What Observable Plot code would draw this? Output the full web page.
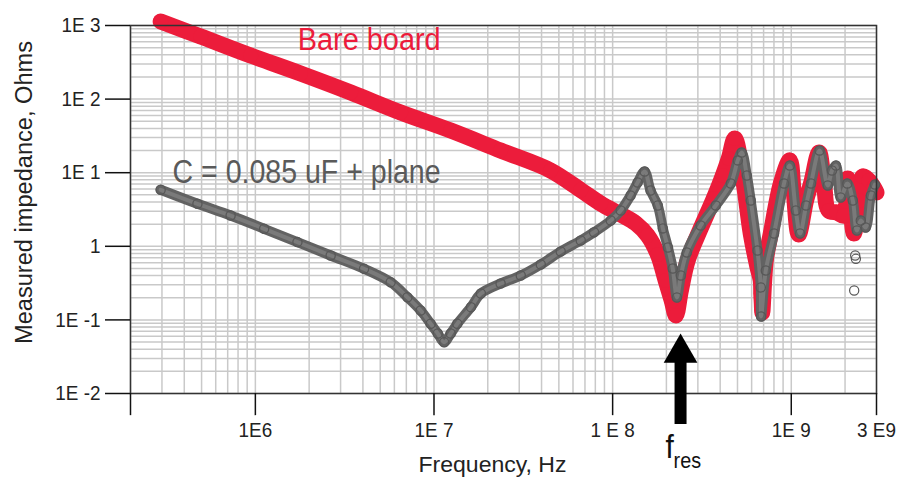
<!DOCTYPE html>
<html>
<head>
<meta charset="utf-8">
<script src="https://cdn.jsdelivr.net/npm/d3@7"></script>
<script src="https://cdn.jsdelivr.net/npm/@observablehq/plot@0.6"></script>
<style>
  html, body { margin: 0; padding: 0; background: #fff; }
  #chart { width: 906px; height: 479px; }
</style>
</head>
<body>
<div id="chart"></div>
<script>
// ---- data (frequency in Hz, impedance in Ohms) ----
const redFreq = [2.95e5, 4.94e5, 9.41e5, 1.79e6, 3.42e6, 6.51e6, 1.24e7, 2.36e7, 4.50e7, 6.63e7,
  8.58e7, 1.11e8, 1.35e8, 1.57e8, 1.79e8, 1.98e8, 2.14e8, 2.26e8, 2.41e8, 2.63e8,
  3.11e8, 3.68e8, 4.14e8, 4.47e8, 4.83e8, 5.42e8, 5.93e8, 6.47e8, 6.75e8, 6.79e8,
  6.84e8, 6.88e8, 7.20e8, 7.68e8, 8.74e8, 9.81e8, 1.03e9, 1.10e9, 1.21e9, 1.29e9,
  1.43e9, 1.52e9, 1.62e9, 1.80e9, 1.97e9, 2.07e9, 2.24e9, 2.39e9, 2.51e9, 2.72e9,
  2.90e9, 3.0e9];
const redZ = [1133, 709, 391, 223, 123, 65.8, 37.4, 20.0, 10.7, 5.8,
  3.81, 2.71, 2.04, 1.40, 0.774, 0.343, 0.184, 0.115, 0.251, 0.641,
  1.75, 4.46, 9.16, 15.6, 29.2, 7.14, 1.49, 0.520, 0.343, 0.228,
  0.167, 0.126, 0.641, 1.49, 7.14, 14.7, 5.73, 1.45, 4.19, 7.14,
  18.8, 7.83, 3.06, 2.88, 2.62, 8.34, 1.49, 4.19, 8.88, 7.83,
  6.29, 5.38];

const grayFreq = [2.95e5, 4.74e5, 7.27e5, 1.12e6, 1.72e6, 2.64e6, 4.06e6, 5.72e6, 7.10e6, 8.42e6,
  9.58e6, 1.05e7, 1.14e7, 1.24e7, 1.35e7, 1.61e7, 1.83e7, 2.36e7, 3.06e7, 3.96e7,
  5.12e7, 6.63e7, 7.87e7, 9.76e7, 1.11e8, 1.26e8, 1.38e8, 1.51e8, 1.63e8, 1.79e8,
  1.91e8, 2.04e8, 2.17e8, 2.29e8, 2.41e8, 2.60e8, 3.11e8, 3.78e8, 4.59e8, 5.02e8,
  5.28e8, 5.64e8, 5.93e8, 6.47e8, 6.75e8, 6.78e8, 7.20e8, 8.01e8, 9.11e8, 9.81e8,
  1.06e9, 1.12e9, 1.21e9, 1.29e9, 1.44e9, 1.60e9, 1.69e9, 1.78e9, 1.89e9, 2.06e9,
  2.21e9, 2.33e9, 2.45e9, 2.61e9, 2.79e9, 2.94e9];
const grayZ = [5.86, 3.78, 2.62, 1.73, 1.14, 0.750, 0.495, 0.325, 0.203, 0.134,
  0.0885, 0.0653, 0.0498, 0.0653, 0.0885, 0.149, 0.228, 0.312, 0.401, 0.566,
  0.850, 1.20, 1.55, 2.24, 3.06, 4.90, 7.36, 10.4, 5.73, 3.58,
  1.75, 0.963, 0.499, 0.202, 0.401, 0.824, 1.92, 3.58, 7.14, 14.7,
  18.8, 9.16, 4.19, 0.877, 0.276, 0.111, 0.469, 1.49, 7.14, 12.5,
  3.06, 1.49, 3.58, 7.14, 20.0, 6.70, 10.7, 12.5, 4.60, 7.14,
  4.19, 1.64, 2.24, 1.80, 4.90, 6.92];

const grayOutFreq = [2.28e9, 2.30e9, 2.25e9];
const grayOutZ = [0.750, 0.676, 0.251];

const xDomain = [2e5, 3e9];
const yDomain = [1e-2, 1e3];
const xTickValues = [2e5, 1e6, 1e7, 1e8, 1e9, 3e9];
const xTickLabels = ["", "1E6", "1E 7", "1 E 8", "1E 9", "3 E9"];
const yTickValues = [1e3, 1e2, 1e1, 1, 1e-1, 1e-2];
const yTickLabels = ["1E 3", "1E 2", "1E 1", "1", "1E -1", "1E -2"];
const xTickEnd = 0.005;        // x tick marks hang below the axis down to this level

const seriesLabels = ["Bare board", "C = 0.085 uF + plane"];
const labelFreq = [1.725e6, 3.44e5];
const labelZ = [625, 10.25];
const xTitle = "Frequency, Hz";
const yTitle = "Measured impedance, Ohms";
const fres = 2.4e8;            // marked resonance frequency
const arrowTipZ = 0.0356;      // arrow head position (impedance units)
const arrowShaft = [0.04, 0.0038];

// ---- tables ----
const red = redFreq.map((f, i) => ({f, z: redZ[i]}));
const gray = grayFreq.map((f, i) => ({f, z: grayZ[i]}));
const grayOut = grayOutFreq.map((f, i) => ({f, z: grayOutZ[i]}));
const xTicks = xTickValues.map((v, i) => ({v, label: xTickLabels[i]}));
const yLab = new Map(yTickValues.map((v, i) => [v, yTickLabels[i]]));
const xGrid = d3.scaleLog().domain(xDomain).ticks();
const yGrid = d3.scaleLog().domain(yDomain).ticks();

const RED = "#ec1c3b";
const GRAY = "#575757";
const FONT = "'Liberation Sans', Arial, sans-serif";

const chart = Plot.plot({
  width: 906,
  height: 479,
  marginLeft: 130,
  marginRight: 30,
  marginTop: 25,
  marginBottom: 86,
  x: {type: "log", domain: xDomain, axis: null},
  y: {type: "log", domain: yDomain},
  style: {fontFamily: FONT, fontSize: "21px", color: "#222", background: "#fff", overflow: "visible"},
  marks: [
    Plot.ruleX(xGrid, {stroke: "#c9c9c9", strokeWidth: 1.5}),
    Plot.ruleY(yGrid, {stroke: "#c9c9c9", strokeWidth: 1.5}),
    // bare board
    Plot.line(red, {x: "f", y: "z", curve: "catmull-rom", stroke: RED, strokeWidth: 16, strokeLinejoin: "round", strokeLinecap: "round"}),
    Plot.dot(red, {x: "f", y: "z", r: 7.5, fill: RED}),
    // C + plane
    Plot.line(gray, {x: "f", y: "z", curve: "catmull-rom", stroke: "#626262", strokeWidth: 10, strokeLinejoin: "round", strokeLinecap: "round"}),
    Plot.line(gray, {x: "f", y: "z", curve: "catmull-rom", stroke: "#7a7a7a", strokeWidth: 4, strokeLinejoin: "round"}),
    Plot.dot(gray, {x: "f", y: "z", r: 4.6, stroke: GRAY, strokeWidth: 1.3, fill: "none"}),
    Plot.dot(grayOut, {x: "f", y: "z", r: 4.6, stroke: GRAY, strokeWidth: 1.2, fill: "none"}),
    // frame and axes
    Plot.frame({stroke: "#333", strokeWidth: 1.5}),
    Plot.axisY({ticks: yTickValues, tickFormat: d => yLab.get(d), tickSize: 25, tickPadding: 5,
      stroke: "#111", strokeWidth: 1.5, fontSize: 21, label: null}),
    Plot.ruleX(xTickValues, {x: d => d, y1: yDomain[0], y2: xTickEnd, stroke: "#111", strokeWidth: 1.5}),
    Plot.text(xTicks, {x: "v", text: "label", frameAnchor: "bottom", dy: 36.5, fontSize: 21, fill: "#222",
      textAnchor: "middle", lineAnchor: "middle"}),
    Plot.text([yTitle], {frameAnchor: "left", rotate: -90, dx: -106, dy: -17, fontSize: 23, fill: "#222",
      textAnchor: "middle", lineAnchor: "middle"}),
    Plot.text([xTitle], {frameAnchor: "bottom", dx: -11, dy: 71, fontSize: 22, fill: "#222",
      textAnchor: "middle", lineAnchor: "middle"}),
    // series labels
    Plot.text([0], {x: d => labelFreq[d], y: d => labelZ[d], text: d => seriesLabels[d], fill: RED,
      fontSize: 31, textAnchor: "start", lineAnchor: "middle"}),
    Plot.text([1], {x: d => labelFreq[d], y: d => labelZ[d], text: d => seriesLabels[d], fill: "#5a5a5a",
      fontSize: 33.5, textAnchor: "start", lineAnchor: "middle"}),
    // f_res arrow
    Plot.ruleX([fres], {y1: arrowShaft[0], y2: arrowShaft[1], stroke: "#000", strokeWidth: 12}),
    Plot.dot([fres], {x: d => d, y: () => arrowTipZ, symbol: "triangle", r: 12.5, fill: "#000"}),
    Plot.text([fres], {x: d => d, frameAnchor: "bottom", text: () => "f", dx: -11, dy: 54, fontSize: 33,
      fill: "#111", textAnchor: "middle", lineAnchor: "middle"}),
    Plot.text([fres], {x: d => d, frameAnchor: "bottom", text: () => "res", dx: -7, dy: 67, fontSize: 22,
      fill: "#111", textAnchor: "start", lineAnchor: "middle"})
  ]
});
document.getElementById("chart").appendChild(chart);

// condensed look (the original uses a condensed typeface): squeeze text horizontally
const targetWidth = new Map([
  ["Bare board", 143], ["C = 0.085 uF + plane", 268],
  ["Measured impedance, Ohms", 303], ["Frequency, Hz", 148]
]);
chart.querySelectorAll("text").forEach(el => {
  const s = el.textContent;
  if (!s) return;
  const w = el.getComputedTextLength();
  const t = targetWidth.has(s) ? targetWidth.get(s) : w * 0.9;
  el.setAttribute("textLength", t.toFixed(1));
  el.setAttribute("lengthAdjust", "spacingAndGlyphs");
});
</script>
</body>
</html>
